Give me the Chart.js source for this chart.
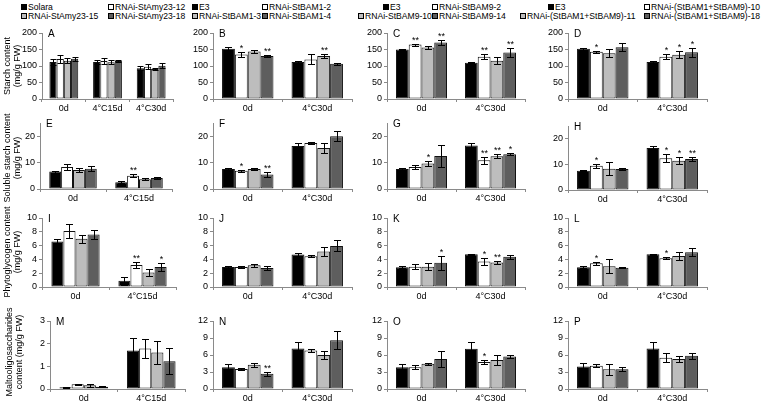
<!DOCTYPE html>
<html>
<head>
<meta charset="utf-8">
<script src="https://cdn.jsdelivr.net/npm/chart.js@4.4.0/dist/chart.umd.min.js"></script>
<style>
  body { margin: 0; width: 763px; height: 402px; background: #fff; position: relative; overflow: hidden;
         font-family: 'Liberation Sans', Arial, sans-serif; }
  canvas { position: absolute; }
  .lg { position: absolute; font-size: 8.6px; line-height: 10px; white-space: nowrap; color: #000; }
  .lg i { display: inline-block; width: 4px; height: 4px; border: 1px solid #000; margin-right: 1px; }
  .yt { position: absolute; font-size: 9px; line-height: 10px; text-align: center; white-space: nowrap;
        color: #000; transform: translate(-50%, -50%) rotate(-90deg); }
</style>
</head>
<body>
<script>
// categories
const cats3 = ['0d', '4°C15d', '4°C30d'];
const cats15 = ['0d', '4°C15d'];
const cats30 = ['0d', '4°C30d'];

// legend names per column
const namesAmy = ['Solara', 'RNAi-StAmy23-12', 'RNAi-StAmy23-15', 'RNAi-StAmy23-18'];
const namesBam1 = ['E3', 'RNAi-StBAM1-2', 'RNAi-StBAM1-3', 'RNAi-StBAM1-4'];
const namesBam9 = ['E3', 'RNAi-StBAM9-2', 'RNAi-StBAM9-10', 'RNAi-StBAM9-14'];
const namesBoth = ['E3', 'RNAi-(StBAM1+StBAM9)-10', 'RNAi-(StBAM1+StBAM9)-11', 'RNAi-(StBAM1+StBAM9)-18'];

const yTitles = [['Starch content', '(mg/g FW)'], ['Soluble starch content', '(mg/g FW)'],
                 ['Phytoglycogen content', '(mg/g FW)'], ['Maltooligosaccharides', 'content (mg/g FW)']];

// values: one row per line (series), one entry per category
const valsA = [[112, 112, 93], [121, 115, 98], [116, 111, 91], [122, 115, 101]];
const errsA = [[8, 5, 6], [11, 9, 8], [8, 6, 3], [6, 3, 7]];
const sigA = [['', '', ''], ['', '', ''], ['', '', ''], ['', '', '']];

const valsB = [[152, 112], [135, 120], [144, 130], [130, 107]];
const errsB = [[6, 4], [7, 15], [6, 7], [3, 3]];
const sigB = [['', ''], ['*', ''], ['', '**'], ['**', '']];

const valsC = [[150, 110], [165, 128], [156, 116], [171, 141]];
const errsC = [[3, 2], [3, 7], [5, 10], [8, 15]];
const sigC = [['', ''], ['**', '**'], ['', ''], ['**', '**']];

const valsD = [[152, 112], [143, 128], [139, 134], [157, 142]];
const errsD = [[4, 2], [3, 7], [12, 11], [12, 14]];
const sigD = [['', ''], ['*', '*'], ['', '*'], ['', '*']];

const valsE = [[6.6, 2.6], [8.3, 5.0], [7.2, 3.7], [7.7, 4.2]];
const errsE = [[0.4, 0.3], [1.2, 0.5], [0.8, 0.3], [0.9, 0.3]];
const sigE = [['', ''], ['', '**'], ['', ''], ['', '']];

const valsF = [[7.6, 16.3], [6.9, 17.4], [7.6, 15.5], [5.5, 20.0]];
const errsF = [[0.3, 1.2], [0.3, 0.3], [0.3, 1.9], [0.8, 1.9]];
const sigF = [['', ''], ['*', ''], ['', ''], ['**', '']];

const valsG = [[7.6, 16.5], [8.3, 10.9], [9.7, 12.4], [12.5, 13.2]];
const errsG = [[0.4, 1.1], [0.7, 1.4], [1.0, 0.7], [4.1, 0.4]];
const sigG = [['', ''], ['', '**'], ['*', '**'], ['', '*']];

const valsH = [[7.5, 16.4], [9.5, 12.4], [8.3, 11.4], [8.2, 12.1]];
const errsH = [[0.2, 0.9], [0.8, 1.5], [2.6, 1.4], [0.3, 0.7]];
const sigH = [['', ''], ['*', '*'], ['', '*'], ['', '**']];

const valsI = [[6.6, 0.9], [8.1, 3.2], [7.0, 2.1], [7.6, 2.9]];
const errsI = [[0.4, 0.6], [1.0, 0.4], [0.6, 0.5], [0.7, 0.6]];
const sigI = [['', ''], ['', '**'], ['', ''], ['', '*']];

const valsJ = [[2.9, 4.7], [2.9, 4.45], [3.15, 5.15], [2.75, 5.95]];
const errsJ = [[0.15, 0.2], [0.15, 0.15], [0.2, 0.7], [0.35, 0.8]];
const sigJ = [['', ''], ['', ''], ['', ''], ['', '']];

const valsK = [[2.85, 4.75], [2.95, 3.7], [2.95, 3.55], [3.5, 4.4]];
const errsK = [[0.15, 0.1], [0.4, 0.5], [0.5, 0.15], [1.0, 0.3]];
const sigK = [['', ''], ['', '*'], ['', '**'], ['*', '']];

const valsL = [[2.85, 4.75], [3.45, 4.15], [3.0, 4.5], [2.8, 5.05]];
const errsL = [[0.15, 0.1], [0.2, 0.15], [1.0, 0.6], [0.1, 0.55]];
const sigL = [['', ''], ['*', '*'], ['', ''], ['', '']];

const valsM = [[0.08, 1.7], [0.21, 1.79], [0.17, 1.61], [0.1, 1.22]];
const errsM = [[0.02, 0.55], [0.03, 0.42], [0.06, 0.5], [0.03, 0.58]];
const sigM = [['', ''], ['', ''], ['', ''], ['', '']];

const valsN = [[3.85, 7.15], [3.55, 6.8], [4.3, 6.0], [2.7, 8.6]];
const errsN = [[0.6, 1.2], [0.15, 0.2], [0.35, 0.65], [0.35, 1.6]];
const sigN = [['', ''], ['', ''], ['', ''], ['**', '']];

const valsO = [[3.85, 7.1], [3.85, 4.75], [4.45, 5.1], [5.3, 5.75]];
const errsO = [[0.6, 1.2], [0.35, 0.4], [0.15, 0.9], [1.35, 0.2]];
const sigO = [['', ''], ['', '*'], ['', ''], ['', '']];

const valsP = [[3.95, 7.15], [4.1, 5.5], [3.5, 5.3], [3.5, 5.85]];
const errsP = [[0.6, 1.2], [0.3, 0.8], [1.0, 0.6], [0.35, 0.55]];
const sigP = [['', ''], ['', ''], ['', ''], ['', '']];

const colors = ['#000000', '#ffffff', '#bdbdbd', '#5e5e5e'];
const FONT = "'Liberation Sans', Arial, sans-serif";

// error bars, significance stars and panel letter
const marks = {
  id: 'marks',
  afterDatasetsDraw(chart, args, o) {
    const ctx = chart.ctx, y = chart.scales.y;
    ctx.save();
    ctx.strokeStyle = '#000';
    ctx.fillStyle = '#000';
    ctx.lineWidth = 1;
    ctx.font = '9px ' + FONT;
    ctx.textAlign = 'center';
    ctx.textBaseline = 'alphabetic';
    chart.data.datasets.forEach((ds, i) => {
      chart.getDatasetMeta(i).data.forEach((bar, j) => {
        const v = ds.data[j], e = ds.err[j];
        const x = Math.round(bar.x) + 0.5;
        const t = Math.round(y.getPixelForValue(v + e)) + 0.5;
        const b = Math.round(y.getPixelForValue(Math.max(v - e, 0))) + 0.5;
        ctx.beginPath();
        ctx.moveTo(x, t); ctx.lineTo(x, b);
        ctx.moveTo(x - o.cap, t); ctx.lineTo(x + o.cap, t);
        ctx.moveTo(x - o.cap, b); ctx.lineTo(x + o.cap, b);
        ctx.stroke();
        if (ds.sig[j]) ctx.fillText(ds.sig[j], x, t - 2);
      });
    });
    ctx.textAlign = 'left';
    ctx.textBaseline = 'middle';
    ctx.font = '10px ' + FONT;
    ctx.fillText(o.letter, chart.chartArea.left + 6, chart.chartArea.top + 1);
    ctx.restore();
  }
};

function panel(letter, cats, vals, errs, sig, max, step, box, pct) {
  const cv = document.createElement('canvas');
  const W = box[2] - box[0] + 46, H = box[3] - box[1] + 28;
  cv.width = W; cv.height = H;
  cv.style.left = (box[0] - 40) + 'px';
  cv.style.top = (box[1] - 8) + 'px';
  document.body.appendChild(cv);
  new Chart(cv, {
    type: 'bar',
    data: {
      labels: cats,
      datasets: vals.map((v, i) => ({
        data: v, err: errs[i], sig: sig[i],
        backgroundColor: colors[i], borderColor: '#111', borderWidth: 1, borderSkipped: false,
        barPercentage: 1, categoryPercentage: pct
      }))
    },
    options: {
      responsive: false, animation: false, devicePixelRatio: 1,
      layout: { padding: { top: 8, right: 6, left: 0, bottom: 0 } },
      plugins: { legend: { display: false }, tooltip: { enabled: false },
                 marks: { letter: letter, cap: cats.length > 2 ? 3 : 3.5 } },
      scales: {
        x: {
          grid: { drawOnChartArea: false, tickLength: 3, color: '#8a8a8a' },
          border: { color: '#8a8a8a' },
          ticks: { color: '#000', font: { family: FONT, size: 9 }, padding: 1, maxRotation: 0 },
          afterFit: s => { s.height = 20; }
        },
        y: {
          min: 0, max: max,
          grid: { drawOnChartArea: false, tickLength: 3, color: '#8a8a8a' },
          border: { color: '#8a8a8a' },
          ticks: { stepSize: step, color: '#000', font: { family: FONT, size: 9 }, padding: 2 },
          afterFit: s => { s.width = 40; }
        }
      }
    },
    plugins: [marks]
  });
}

// plot boxes: [left, top, right, bottom] of the plotting area
panel('A', cats3, valsA, errsA, sigA, 200, 50, [42, 33, 173, 99], 0.66);
panel('B', cats30, valsB, errsB, sigB, 200, 50, [213, 33, 352, 99], 0.74);
panel('C', cats30, valsC, errsC, sigC, 200, 50, [387, 33, 525, 99], 0.74);
panel('D', cats30, valsD, errsD, sigD, 200, 50, [568, 33, 707, 99], 0.74);
panel('E', cats15, valsE, errsE, sigE, 25, 5, [40, 123, 172, 189], 0.72);
panel('F', cats30, valsF, errsF, sigF, 25, 5, [213, 123, 352, 189], 0.74);
panel('G', cats30, valsG, errsG, sigG, 25, 5, [387, 123, 525, 189], 0.74);
panel('H', cats30, valsH, errsH, sigH, 25, 5, [568, 126, 707, 190], 0.74);
panel('I', cats15, valsI, errsI, sigI, 10, 2, [42, 218, 176, 287], 0.72);
panel('J', cats30, valsJ, errsJ, sigJ, 10, 2, [213, 218, 352, 287], 0.74);
panel('K', cats30, valsK, errsK, sigK, 10, 2, [387, 218, 525, 287], 0.74);
panel('L', cats30, valsL, errsL, sigL, 10, 2, [568, 218, 707, 287], 0.74);
panel('M', cats15, valsM, errsM, sigM, 3, 1, [50, 321, 185, 389], 0.72);
panel('N', cats30, valsN, errsN, sigN, 12, 3, [213, 321, 352, 389], 0.74);
panel('O', cats30, valsO, errsO, sigO, 12, 3, [387, 321, 525, 389], 0.74);
panel('P', cats30, valsP, errsP, sigP, 12, 3, [568, 321, 707, 389], 0.74);

// legends: two rows of two entries per column
const legends = [
  [namesAmy, [21, 108], [21, 108]],
  [namesBam1, [192, 262], [192, 262]],
  [namesBam9, [383, 432], [358, 432]],
  [namesBoth, [548, 644], [520, 644]]
];
legends.forEach(([names, row1, row2]) => {
  names.forEach((n, i) => {
    const d = document.createElement('div');
    d.className = 'lg';
    d.style.left = (i < 2 ? row1 : row2)[i % 2] + 'px';
    d.style.top = (i < 2 ? 2 : 11) + 'px';
    d.innerHTML = '<i style="background:' + colors[i] + '"></i>' + n;
    document.body.appendChild(d);
  });
});

// y axis titles of the first column
const titleCenters = [[12, 66], [12, 158], [12, 252], [14, 352]];
yTitles.forEach((t, i) => {
  const d = document.createElement('div');
  d.className = 'yt';
  d.style.left = titleCenters[i][0] + 'px';
  d.style.top = titleCenters[i][1] + 'px';
  d.innerHTML = t.join('<br>');
  document.body.appendChild(d);
});
</script>
</body>
</html>
